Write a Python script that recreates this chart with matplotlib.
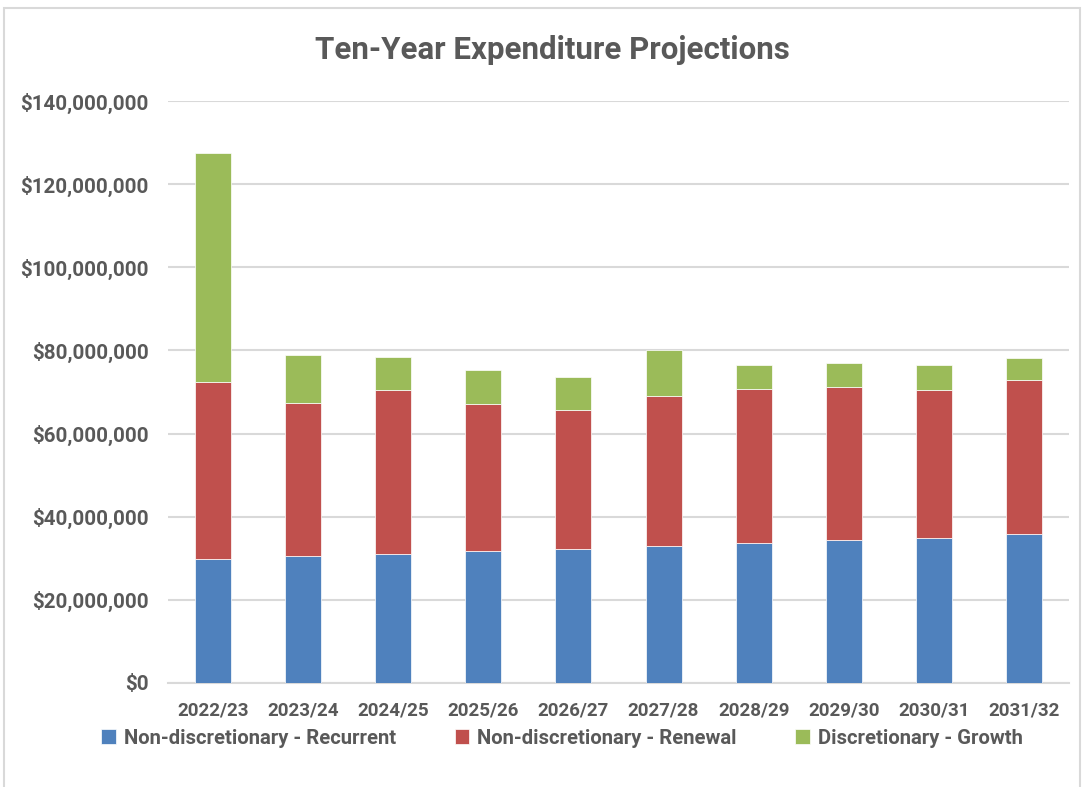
import matplotlib
matplotlib.use("Agg")
import matplotlib.pyplot as plt
import numpy as np
from matplotlib.patches import Rectangle
from matplotlib.ticker import FuncFormatter

plt.rcParams["font.family"] = ["Roboto", "DejaVu Sans"]

years = ["2022/23", "2023/24", "2024/25", "2025/26", "2026/27",
         "2027/28", "2028/29", "2029/30", "2030/31", "2031/32"]
# values in $ millions
recurrent = [29.9, 30.55, 31.0, 31.7, 32.3, 33.0, 33.7, 34.4, 35.0, 35.8]
renewal = [42.4, 36.85, 39.6, 35.3, 33.3, 36.0, 37.1, 36.9, 35.4, 37.1]
growth = [55.1, 11.5, 7.7, 8.3, 8.1, 11.1, 5.8, 5.7, 6.1, 5.3]
labels = ["Non-discretionary - Recurrent", "Non-discretionary - Renewal",
          "Discretionary - Growth"]
colors = ["#4f81bd", "#c0504d", "#9bbb59"]

txt = "#595959"
fig = plt.figure(figsize=(10.87, 7.87), dpi=100)
ax = fig.add_axes([168 / 1087, 1 - 683 / 787, (1069 - 168) / 1087, (683 - 101) / 787])

x = np.arange(len(years))
rec = np.array(recurrent) * 1e6
ren = np.array(renewal) * 1e6
gro = np.array(growth) * 1e6
w = 0.4
ax.bar(x, rec, w, color=colors[0], label=labels[0], edgecolor="white", linewidth=0.5, zorder=3)
ax.bar(x, ren, w, bottom=rec, color=colors[1], label=labels[1], edgecolor="white", linewidth=0.5, zorder=3)
ax.bar(x, gro, w, bottom=rec + ren, color=colors[2], label=labels[2], edgecolor="white", linewidth=0.5, zorder=3)

ax.set_xlim(-0.5, len(years) - 0.5)
ax.set_ylim(0, 140e6)
ax.set_yticks(np.arange(0, 140e6 + 1, 20e6))
ax.yaxis.set_major_formatter(FuncFormatter(lambda v, p: f"${v:,.0f}"))
ax.set_xticks(x)
ax.set_xticklabels(years)
ax.grid(axis="y", color="#d9d9d9", linewidth=1.5, zorder=0)
for s in ["top", "right", "left"]:
    ax.spines[s].set_visible(False)
ax.spines["bottom"].set_color("#d9d9d9")
ax.spines["bottom"].set_linewidth(1.5)
ax.tick_params(axis="x", length=0, colors=txt, labelsize=13.5, pad=13)
ax.tick_params(axis="y", length=0, colors=txt, labelsize=14.8, pad=14)
for t in ax.get_xticklabels() + ax.get_yticklabels():
    t.set_fontweight("bold")

fig.text(552 / 1087, 1 - 50 / 787, "Ten-Year Expenditure Projections", ha="center", va="center",
         fontsize=22.5, fontweight="bold", color=txt)

leg = fig.legend(loc="center", bbox_to_anchor=(562 / 1087, 1 - 738 / 787), ncol=3, frameon=False,
                 handlelength=0.7, handleheight=0.7, handletextpad=0.4, columnspacing=2.9,
                 prop={"size": 14.6, "weight": "bold"})
for t in leg.get_texts():
    t.set_color(txt)

fig.patches.append(Rectangle((4 / 1087, -0.01), 1076 / 1087, 1 - 8 / 787 + 0.01, transform=fig.transFigure,
                             fill=False, edgecolor="#d9d9d9", linewidth=1.5))

fig.savefig("out.png", dpi=100)
